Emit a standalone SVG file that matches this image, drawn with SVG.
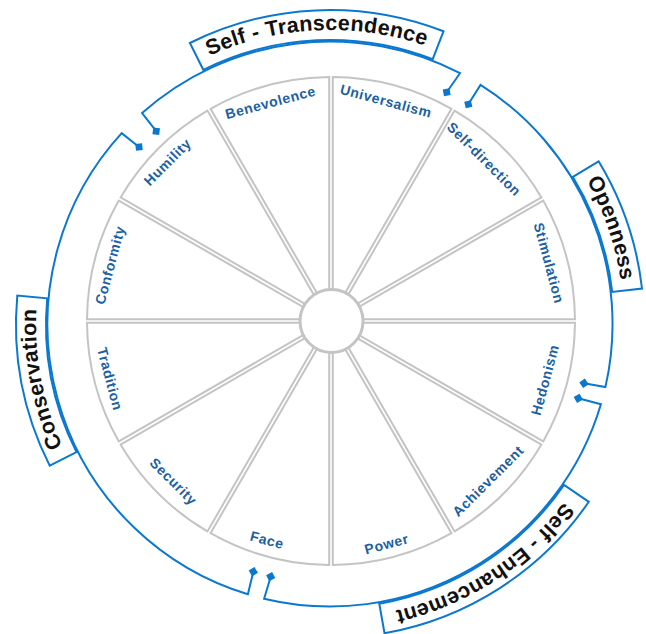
<svg xmlns="http://www.w3.org/2000/svg" width="646" height="634" viewBox="0 0 646 634">
<style>
.wedge{fill:#fff;stroke:#c4c4c4;stroke-width:2}
.hub{fill:#fff;stroke:#c4c4c4;stroke-width:3}
.val{font-family:"Liberation Sans",Arial,sans-serif;font-size:14px;font-weight:bold;fill:#1b5fa4;text-anchor:middle;letter-spacing:0.6px}
.brk{fill:none;stroke:#0b78d0;stroke-width:2;stroke-linejoin:miter;marker-start:url(#tip);marker-end:url(#tip)}
.box{fill:#fff;stroke:#0b78d0;stroke-width:2}
.grp{font-family:"Liberation Sans",Arial,sans-serif;font-size:21.5px;font-weight:bold;fill:#111;letter-spacing:0.3px}
</style>
<defs>
  <!-- one 30-degree sector of the wheel, drawn at the origin -->
  <path id="wedge" d="M6.72,1.8 L243.99,1.8 A244,244 0 0 1 212.2,120.44 Z"/>
  <!-- diamond tip on the bracket ends -->
  <marker id="tip" viewBox="-6 -6 12 12" markerWidth="12" markerHeight="12" markerUnits="userSpaceOnUse" refX="0" refY="0" orient="auto">
    <path d="M-4.8,0 L0,-4.8 L4.8,0 L0,4.8 Z" fill="#0b78d0"/>
  </marker>
  <!-- baselines for the curved group titles (r=294, centre 330,324) -->
  <path id="tp-st" d="M198.8,60.9 A294,294 0 0 1 436.3,49.9"/>
  <path id="tp-op" d="M581.5,171.7 A294,294 0 0 1 622.1,290.7"/>
  <path id="tp-se" d="M572.3,490.5 A294,294 0 0 1 381.0,613.5"/>
  <path id="tp-co" d="M67.6,456.6 A294,294 0 0 1 37.2,297.4"/>
</defs>
<rect width="646" height="634" fill="#fff"/>

<!-- brackets grouping the values -->
<g id="connectors">
  <path id="b-st" class="brk" d="M156.2,131.2 L142.1,113.1 A282.5,282.5 0 0 1 460.0,73.2 L446.7,92.3"/>
  <path id="b-op" class="brk" d="M468.3,104.3 L480.5,84.9 A282.5,282.5 0 0 1 605.4,387.1 L584,383.3"/>
  <path id="b-se" class="brk" d="M578.3,398.3 L600.9,404.2 A282.5,282.5 0 0 1 264.1,598.7 L270.7,576.7"/>
  <path id="b-co" class="brk" d="M253.3,571.7 L247.9,594.3 A282.5,282.5 0 0 1 121.7,133.1 L139,147"/>
</g>

<!-- value wheel -->
<g id="wheel">
  <g id="universalism"><use href="#wedge" class="wedge" transform="translate(331,321) rotate(270)"/><text class="val" dy="0.35em" transform="translate(386,101) rotate(15)">Universalism</text></g>
  <g id="self-direction"><use href="#wedge" class="wedge" transform="translate(331,321) rotate(300)"/><text class="val" dy="0.35em" transform="translate(484,159) rotate(45)">Self-direction</text></g>
  <g id="stimulation"><use href="#wedge" class="wedge" transform="translate(331,321) rotate(330)"/><text class="val" dy="0.35em" transform="translate(549,263) rotate(75)">Stimulation</text></g>
  <g id="hedonism"><use href="#wedge" class="wedge" transform="translate(331,321) rotate(0)"/><text class="val" dy="0.35em" transform="translate(545,380) rotate(-75)">Hedonism</text></g>
  <g id="achievement"><use href="#wedge" class="wedge" transform="translate(331,321) rotate(30)"/><text class="val" dy="0.35em" transform="translate(488,481) rotate(-45)">Achievement</text></g>
  <g id="power"><use href="#wedge" class="wedge" transform="translate(331,321) rotate(60)"/><text class="val" dy="0.35em" transform="translate(386.5,544) rotate(-15)">Power</text></g>
  <g id="face"><use href="#wedge" class="wedge" transform="translate(331,321) rotate(90)"/><text class="val" dy="0.35em" transform="translate(267,540) rotate(15)">Face</text></g>
  <g id="security"><use href="#wedge" class="wedge" transform="translate(331,321) rotate(120)"/><text class="val" dy="0.35em" transform="translate(173.5,481.5) rotate(45)">Security</text></g>
  <g id="tradition"><use href="#wedge" class="wedge" transform="translate(331,321) rotate(150)"/><text class="val" dy="0.35em" transform="translate(110,379) rotate(75)">Tradition</text></g>
  <g id="conformity"><use href="#wedge" class="wedge" transform="translate(331,321) rotate(180)"/><text class="val" dy="0.35em" transform="translate(110,265) rotate(-75)">Conformity</text></g>
  <g id="humility"><use href="#wedge" class="wedge" transform="translate(331,321) rotate(210)"/><text class="val" dy="0.35em" transform="translate(167.5,162) rotate(-45)">Humility</text></g>
  <g id="benevolence"><use href="#wedge" class="wedge" transform="translate(331,321) rotate(240)"/><text class="val" dy="0.35em" transform="translate(270.5,102.5) rotate(-15)">Benevolence</text></g>
  <circle id="hub" class="hub" cx="331.5" cy="321" r="31.5"/>
</g>

<!-- curved title boxes -->
<g id="self-transcendence">
  <path class="box" d="M203.3,69.8 A284,284 0 0 1 432.7,59.2 L443.5,31.3 A314,314 0 0 0 189.9,43.0 Z"/>
  <text class="grp"><textPath href="#tp-st" startOffset="50%" text-anchor="middle">Self - Transcendence</textPath></text>
</g>
<g id="openness">
  <path class="box" d="M572.9,176.9 A284,284 0 0 1 612.2,291.9 L642.0,288.5 A314,314 0 0 0 598.6,161.3 Z"/>
  <text class="grp"><textPath href="#tp-op" startOffset="50%" text-anchor="middle">Openness</textPath></text>
</g>
<g id="self-enhancement">
  <path class="box" d="M564.0,484.9 A284,284 0 0 1 379.3,603.7 L384.5,633.2 A314,314 0 0 0 588.8,501.8 Z"/>
  <text class="grp"><textPath href="#tp-se" startOffset="50%" text-anchor="middle">Self - Enhancement</textPath></text>
</g>
<g id="conservation">
  <path class="box" d="M76.5,452.1 A284,284 0 0 1 47.2,298.3 L17.3,295.6 A314,314 0 0 0 49.7,465.6 Z"/>
  <text class="grp"><textPath href="#tp-co" startOffset="50%" text-anchor="middle">Conservation</textPath></text>
</g>
</svg>
